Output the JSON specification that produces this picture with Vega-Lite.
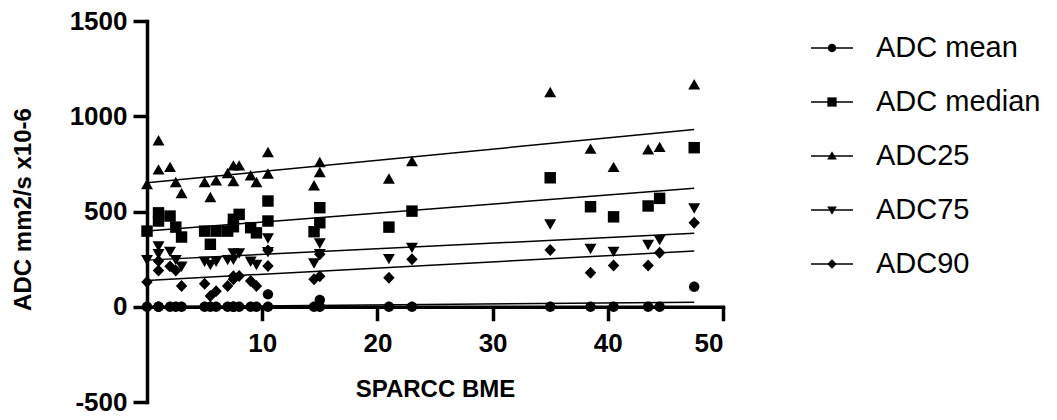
{
  "$schema": "https://vega.github.io/schema/vega-lite/v6.json",
  "width": 576,
  "height": 381,
  "autosize": {"type": "none"},
  "padding": {"left": 147, "top": 21, "right": 334, "bottom": 18},
  "background": "white",
  "config": {
    "view": {"stroke": null},
    "font": "Liberation Sans",
    "axis": {
      "grid": false,
      "domainColor": "black",
      "domainWidth": 3.5,
      "domainCap": "square",
      "tickColor": "black",
      "tickWidth": 3.5,
      "tickSize": 14,
      "labelFont": "Liberation Sans",
      "labelFontWeight": "bold",
      "labelFontSize": 26,
      "labelColor": "black",
      "titleFont": "Liberation Sans",
      "titleFontWeight": "bold",
      "titleFontSize": 24,
      "titleColor": "black"
    },
    "legend": {
      "labelFont": "Liberation Sans",
      "labelFontSize": 29,
      "labelLimit": 400
    }
  },
  "data": {
    "values": [
      {"x": 0, "ADC mean": 0, "ADC median": 397, "ADC25": 640, "ADC75": 249, "ADC90": 130},
      {"x": 1, "ADC mean": 0, "ADC median": 493, "ADC25": 870, "ADC75": 320, "ADC90": 240},
      {"x": 1, "ADC mean": 0, "ADC median": 450, "ADC25": 717, "ADC75": 280, "ADC90": 190},
      {"x": 2, "ADC mean": 0, "ADC median": 476, "ADC25": 730, "ADC75": 292, "ADC90": 212},
      {"x": 2.5, "ADC mean": 0, "ADC median": 418, "ADC25": 651, "ADC75": 249, "ADC90": 190},
      {"x": 3, "ADC mean": 0, "ADC median": 366, "ADC25": 593, "ADC75": 214, "ADC90": 109},
      {"x": 5, "ADC mean": 0, "ADC median": 397, "ADC25": 651, "ADC75": 240, "ADC90": 121},
      {"x": 5.5, "ADC mean": 0, "ADC median": 328, "ADC25": 572, "ADC75": 223, "ADC90": 56},
      {"x": 6, "ADC mean": 0, "ADC median": 397, "ADC25": 660, "ADC75": 240, "ADC90": 82},
      {"x": 7, "ADC mean": 0, "ADC median": 397, "ADC25": 698, "ADC75": 249, "ADC90": 109},
      {"x": 7.5, "ADC mean": 0, "ADC median": 459, "ADC25": 738, "ADC75": 284, "ADC90": 144},
      {"x": 7.5, "ADC mean": 0, "ADC median": 420, "ADC25": 656, "ADC75": 250, "ADC90": 160},
      {"x": 8, "ADC mean": 0, "ADC median": 485, "ADC25": 738, "ADC75": 284, "ADC90": 161},
      {"x": 9, "ADC mean": 0, "ADC median": 415, "ADC25": 686, "ADC75": 240, "ADC90": 135},
      {"x": 9.5, "ADC mean": 0, "ADC median": 388, "ADC25": 651, "ADC75": 223, "ADC90": 109},
      {"x": 10.5, "ADC mean": 65, "ADC median": 555, "ADC25": 808, "ADC75": 362, "ADC90": 296},
      {"x": 10.5, "ADC mean": 0, "ADC median": 450, "ADC25": 695, "ADC75": 290, "ADC90": 214},
      {"x": 14.5, "ADC mean": 0, "ADC median": 394, "ADC25": 634, "ADC75": 231, "ADC90": 144},
      {"x": 15, "ADC mean": 36, "ADC median": 520, "ADC25": 756, "ADC75": 336, "ADC90": 275},
      {"x": 15, "ADC mean": 0, "ADC median": 441, "ADC25": 703, "ADC75": 280, "ADC90": 160},
      {"x": 21, "ADC mean": 0, "ADC median": 418, "ADC25": 669, "ADC75": 254, "ADC90": 152},
      {"x": 23, "ADC mean": 0, "ADC median": 502, "ADC25": 761, "ADC75": 313, "ADC90": 249},
      {"x": 35, "ADC mean": 0, "ADC median": 677, "ADC25": 1123, "ADC75": 436, "ADC90": 298},
      {"x": 38.5, "ADC mean": 0, "ADC median": 525, "ADC25": 826, "ADC75": 307, "ADC90": 178},
      {"x": 40.5, "ADC mean": 0, "ADC median": 472, "ADC25": 730, "ADC75": 292, "ADC90": 217},
      {"x": 43.5, "ADC mean": 0, "ADC median": 529, "ADC25": 823, "ADC75": 328, "ADC90": 217},
      {"x": 44.5, "ADC mean": 0, "ADC median": 569, "ADC25": 835, "ADC75": 354, "ADC90": 283},
      {"x": 47.5, "ADC mean": 105, "ADC median": 835, "ADC25": 1164, "ADC75": 520, "ADC90": 441}
    ]
  },
  "transform": [
    {"fold": ["ADC mean", "ADC median", "ADC25", "ADC75", "ADC90"], "as": ["series", "value"]}
  ],
  "layer": [
    {
      "mark": {"type": "line", "strokeWidth": 1.5},
      "transform": [
        {"regression": "value", "on": "x", "groupby": ["series"]}
      ],
      "encoding": {
        "x": {
          "field": "x", "type": "quantitative",
          "scale": {"domain": [0, 50], "nice": false, "zero": false},
          "axis": {
            "title": "SPARCC BME",
            "values": [10, 20, 30, 40, 50],
            "labelExpr": "'' + datum.value",
            "offset": -95.25,
            "domainWidth": 3.5,
            "tickWidth": 3.5,
            "labelPadding": 10,
            "labelBaseline": "top",
            "titleY": 83,
            "titleBaseline": "middle"
          }
        },
        "y": {
          "field": "value", "type": "quantitative",
          "scale": {"domain": [-500, 1500], "nice": false, "zero": false},
          "axis": {
            "title": "ADC mm2/s x10-6",
            "values": [-500, 0, 500, 1000, 1500],
            "labelExpr": "'' + datum.value",
            "domainWidth": 3.5,
            "tickWidth": 3.5,
            "labelPadding": 6,
            "titleX": -124,
            "titleY": 188,
            "titleAngle": -90,
            "titleBaseline": "middle",
            "titleAlign": "center"
          }
        },
        "color": {
          "field": "series", "type": "nominal",
          "scale": {
            "domain": ["ADC mean", "ADC median", "ADC25", "ADC75", "ADC90"],
            "range": ["black", "black", "black", "black", "black"]
          },
          "legend": {
            "title": null,
            "orient": "none",
            "legendX": 663,
            "legendY": 5,
            "symbolType": "stroke",
            "symbolSize": 1764,
            "symbolStrokeWidth": 1.5,
            "symbolStrokeColor": "black",
            "labelColor": "transparent",
            "labelOffset": 22,
            "rowPadding": 17
          }
        }
      }
    },
    {
      "mark": {"type": "point", "filled": true, "color": "black", "opacity": 1, "size": 2704},
      "encoding": {
        "x": {"field": "x", "type": "quantitative"},
        "y": {"field": "value", "type": "quantitative"},
        "shape": {
          "field": "series", "type": "nominal",
          "scale": {
            "range": [
              "M0.2,0A0.2,0.2,0,1,1,-0.2,0A0.2,0.2,0,1,1,0.2,0Z",
              "M-0.22,-0.22L0.22,-0.22L0.22,0.22L-0.22,0.22Z",
              "M0,-0.23L0.23,0.17L-0.23,0.17Z",
              "M0,0.23L0.23,-0.17L-0.23,-0.17Z",
              "M0,-0.23L0.22,0L0,0.23L-0.22,0Z"
            ]
          },
          "legend": {
            "title": null,
            "orient": "none",
            "legendX": 663,
            "legendY": 5,
            "symbolSize": 1764,
            "symbolOpacity": 1,
            "symbolFillColor": "black",
            "labelColor": "black",
            "labelOffset": 22,
            "rowPadding": 17
          }
        }
      }
    }
  ]
}
